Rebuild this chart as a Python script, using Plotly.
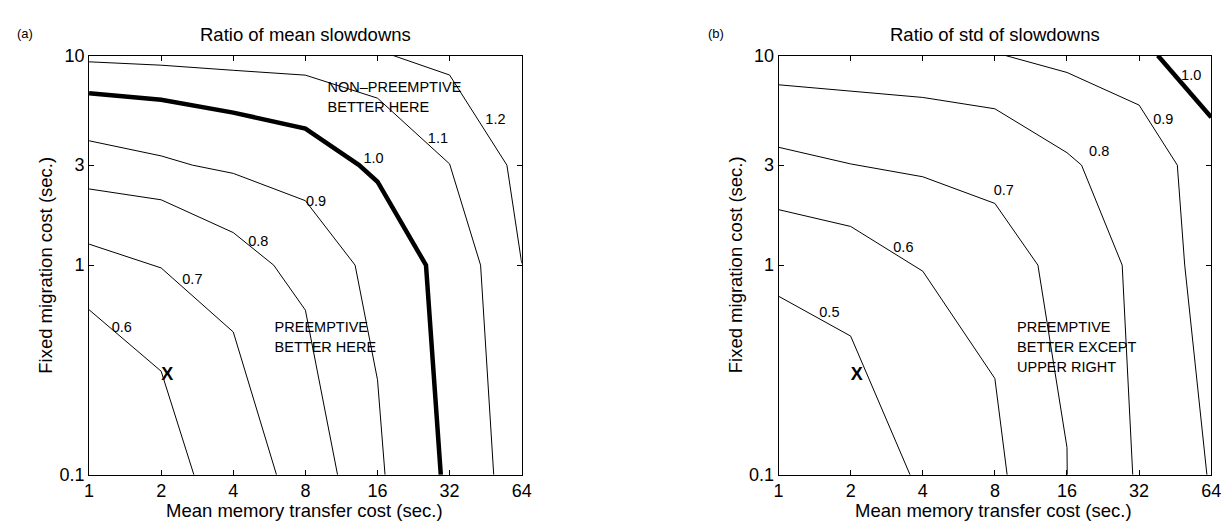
import math
import plotly.graph_objects as go

# ---------------- data ----------------
x_ticks = [1, 2, 4, 8, 16, 32, 64]
x_ticktext = ["1", "2", "4", "8", "16", "32", "64"]
y_ticks = [0.1, 1, 3, 10]
y_ticktext = ["0.1", "1", "3", "10"]

# Panel (a): ratio of mean slowdowns (contour polylines)
a06_x = [1, 2, 2.74]
a06_y = [0.613, 0.312, 0.1]
a07_x = [1, 2, 4, 6.06]
a07_y = [1.26, 0.97, 0.48, 0.1]
a08_x = [1, 2, 4, 5.9, 8, 10.9]
a08_y = [2.31, 2.05, 1.43, 1.0, 0.61, 0.1]
a09_x = [1, 2, 2.7, 4, 8, 12.9, 16, 17.2]
a09_y = [3.92, 3.32, 3.0, 2.74, 2.03, 1.0, 0.284, 0.1]
a10_x = [1, 2, 4, 8, 13.4, 16, 25.5, 29.4]
a10_y = [6.6, 6.15, 5.34, 4.48, 3.0, 2.5, 1.0, 0.1]
a11_x = [1, 2, 4, 8, 16, 32, 43.1, 48.9]
a11_y = [9.33, 8.99, 8.5, 8.06, 6.26, 3.04, 1.0, 0.1]
a12_x = [18.6, 32, 55.5, 64]
a12_y = [10, 8.07, 3.0, 1.02]

a_labels = ["0.6", "0.7", "0.8", "0.9", "1.0", "1.1", "1.2"]
a_label_x = [1.37, 2.70, 5.09, 8.86, 15.4, 28.6, 49.7]
a_label_y = [0.497, 0.842, 1.28, 1.99, 3.20, 3.99, 4.93]

# Panel (b): ratio of std of slowdowns (contour polylines)
b05_x = [1, 2, 3.54]
b05_y = [0.711, 0.459, 0.1]
b06_x = [1, 2, 4, 8, 9.0]
b06_y = [1.84, 1.53, 0.936, 0.288, 0.1]
b07_x = [1, 2, 4, 8, 12.1, 16, 16.04]
b07_y = [3.65, 3.04, 2.64, 1.97, 1.0, 0.135, 0.1]
b08_x = [1, 2, 4, 8, 16, 18.4, 27.2, 30.1]
b08_y = [7.25, 6.79, 6.31, 5.57, 3.44, 3.0, 1.0, 0.1]
b09_x = [8.85, 16, 32, 46.2, 49.6, 61.4]
b09_y = [10, 8.3, 5.8, 3.0, 1.0, 0.1]
b10_x = [38.3, 64]
b10_y = [10, 5.07]

b_labels = ["0.5", "0.6", "0.7", "0.8", "0.9", "1.0"]
b_label_x = [1.63, 3.32, 8.71, 21.8, 40.4, 52.8]
b_label_y = [0.592, 1.197, 2.25, 3.44, 4.93, 7.94]

# operating point
x_mark = [2.12]
y_mark = [0.298]

# ---------------- figure ----------------
FONT = "Liberation Sans, Arial, Helvetica, sans-serif"
W, H = 1231, 523
fig = go.Figure()


def line(xs, ys, xa, ya, width=1.0):
    fig.add_trace(go.Scatter(x=xs, y=ys, mode="lines", xaxis=xa, yaxis=ya,
                             line=dict(color="black", width=width),
                             hoverinfo="skip", showlegend=False))


def texts(xs, ys, ts, xa, ya, size=14.5, pos="middle center"):
    fig.add_trace(go.Scatter(x=xs, y=ys, text=ts, mode="text", xaxis=xa, yaxis=ya,
                             textposition=pos, cliponaxis=False,
                             textfont=dict(family=FONT, size=size, color="black"),
                             hoverinfo="skip", showlegend=False))


# panel (a)
for xs, ys in [(a06_x, a06_y), (a07_x, a07_y), (a08_x, a08_y), (a09_x, a09_y),
               (a11_x, a11_y), (a12_x, a12_y)]:
    line(xs, ys, "x", "y")
line(a10_x, a10_y, "x", "y", width=4.5)
texts(a_label_x, a_label_y, a_labels, "x", "y")
texts([9.9, 9.9], [7.0, 5.57], ["NON\u2013PREEMPTIVE", "BETTER HERE"], "x", "y",
      pos="middle right")
texts([5.95, 5.95], [0.5, 0.399], ["PREEMPTIVE", "BETTER HERE"], "x", "y",
      pos="middle right")
texts(x_mark, y_mark, ["<b>X</b>"], "x", "y", size=18)

# panel (b)
for xs, ys in [(b05_x, b05_y), (b06_x, b06_y), (b07_x, b07_y), (b08_x, b08_y),
               (b09_x, b09_y)]:
    line(xs, ys, "x2", "y2")
line(b10_x, b10_y, "x2", "y2", width=4.5)
texts(b_label_x, b_label_y, b_labels, "x2", "y2")
texts([9.9, 9.9, 9.9], [0.5, 0.399, 0.323],
      ["PREEMPTIVE", "BETTER EXCEPT", "UPPER RIGHT"], "x2", "y2", pos="middle right")
texts(x_mark, y_mark, ["<b>X</b>"], "x2", "y2", size=18)

ydom = [(H - 475) / H, (H - 39) / H]
xdom1 = [77 / W, 515 / W]
xdom2 = [775 / W, 1213 / W]

axis_common = dict(showgrid=False, zeroline=False, showline=True, linecolor="black",
                   linewidth=1, mirror="ticks", ticks="inside", ticklen=5,
                   tickcolor="black", tickwidth=1,
                   tickfont=dict(family=FONT, size=18, color="black"))

xa = dict(type="log", range=[0, math.log10(64)], tickvals=x_ticks,
          ticktext=x_ticktext, **axis_common)
ya = dict(type="log", range=[-1, 1], tickvals=y_ticks, ticktext=y_ticktext,
          **axis_common)

fig.update_layout(
    width=W, height=H, autosize=False,
    margin=dict(l=0, r=0, t=0, b=0),
    paper_bgcolor="white", plot_bgcolor="white",
    xaxis=dict(domain=xdom1, anchor="y", **xa),
    yaxis=dict(domain=ydom, anchor="x", **ya),
    xaxis2=dict(domain=xdom2, anchor="y2", **xa),
    yaxis2=dict(domain=ydom, anchor="x2", **ya),
    font=dict(family=FONT, color="black"),
)


def ann(text, px, py, size, angle=0, xanchor="center"):
    fig.add_annotation(text=text, x=px / W, y=(H - py) / H, xref="paper", yref="paper",
                       showarrow=False, xanchor=xanchor, yanchor="middle",
                       textangle=angle, font=dict(family=FONT, size=size, color="black"))


ann("Ratio of mean slowdowns", 296, 17, 18.5)
ann("Ratio of std of slowdowns", 994, 17, 18.5)
ann("Mean memory transfer cost (sec.)", 295, 512, 18.5)
ann("Mean memory transfer cost (sec.)", 993, 512, 18.5)
ann("Fixed migration cost (sec.)", 33, 257, 18.5, angle=-90)
ann("Fixed migration cost (sec.)", 731, 257, 18.5, angle=-90)
ann("(a)", 2, 16, 13, xanchor="left")
ann("(b)", 702, 16, 13, xanchor="left")

fig.write_html("out.html")
